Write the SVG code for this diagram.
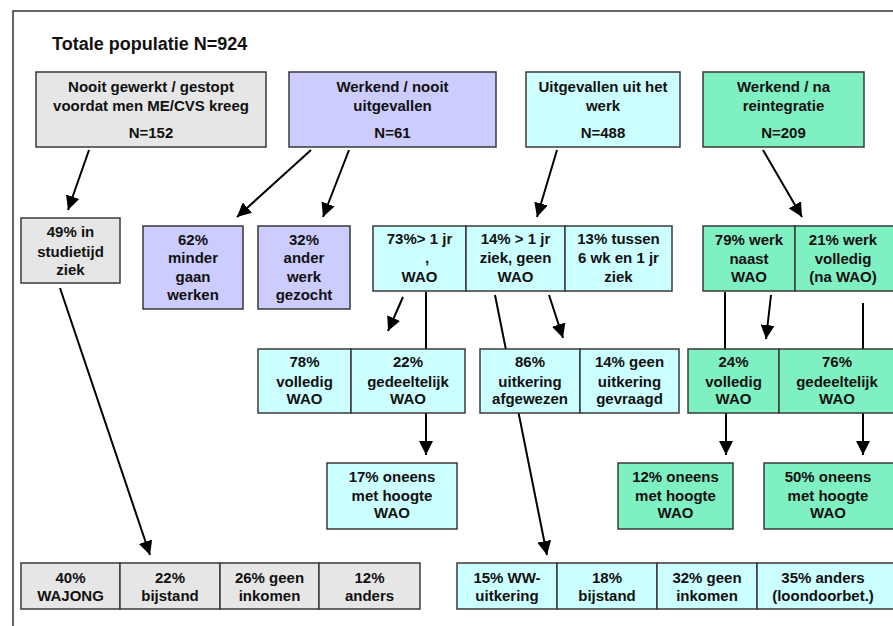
<svg xmlns="http://www.w3.org/2000/svg" width="893" height="626" viewBox="0 0 893 626">
<defs>
<marker id="ah" viewBox="0 0 14 14" refX="14" refY="7" markerWidth="14" markerHeight="14" orient="auto" markerUnits="userSpaceOnUse"><path d="M0,0 L14,7 L0,14 z" fill="#000"/></marker>
<style>
rect{stroke:#3a3a3a;stroke-width:1.5}
.g{fill:#e6e6e6}.p{fill:#ccccff}.c{fill:#ccffff}.m{fill:#7ff0c2}
text{font-family:"Liberation Sans",Arial,sans-serif;font-weight:bold;font-size:15px;fill:#111;text-anchor:middle}
.t{font-size:18px;text-anchor:start}
.ln{stroke:#000;stroke-width:2;fill:none}
.ar{stroke:#000;stroke-width:2;fill:none;marker-end:url(#ah)}
</style>
</defs>
<rect x="0" y="0" width="893" height="626" style="fill:#fff;stroke:none"/>
<path d="M13,626 V11 H893" fill="none" stroke="#333" stroke-width="1.5"/>
<text class="t" x="52" y="50">Totale populatie N=924</text>

<g id="connectors">
<line class="ar" x1="89" y1="150" x2="68" y2="210"/>
<line class="ar" x1="311" y1="150" x2="237" y2="217"/>
<line class="ar" x1="349" y1="150" x2="323" y2="217"/>
<line class="ar" x1="557" y1="150" x2="537" y2="217"/>
<line class="ar" x1="763" y1="150" x2="802" y2="217"/>
<line class="ar" x1="60" y1="288" x2="150" y2="555"/>
<line class="ar" x1="403" y1="297" x2="388" y2="331"/>
<line class="ln" x1="426" y1="292" x2="426" y2="349"/>
<line class="ar" x1="495" y1="295" x2="547" y2="555"/>
<line class="ar" x1="549" y1="295" x2="563" y2="338"/>
<line class="ln" x1="725" y1="292" x2="725" y2="349"/>
<line class="ar" x1="771" y1="295" x2="766" y2="339"/>
<line class="ln" x1="863" y1="303" x2="863" y2="349"/>
<line class="ar" x1="426" y1="413" x2="426" y2="455"/>
<line class="ar" x1="726" y1="413" x2="726" y2="455"/>
<line class="ar" x1="863" y1="413" x2="863" y2="455"/>
</g>

<g id="nooit">
<rect class="g" x="36" y="72" width="230" height="75"/>
<text x="151" y="92">Nooit gewerkt / gestopt</text>
<text x="151" y="111">voordat men ME/CVS kreeg</text>
<text x="151" y="138">N=152</text>
</g>
<g id="werkend-nooit">
<rect class="p" x="289" y="72" width="207" height="75"/>
<text x="392.5" y="92">Werkend / nooit</text>
<text x="392.5" y="111">uitgevallen</text>
<text x="392.5" y="138">N=61</text>
</g>
<g id="uitgevallen">
<rect class="c" x="526" y="72" width="154" height="75"/>
<text x="603" y="92">Uitgevallen uit het</text>
<text x="603" y="111">werk</text>
<text x="603" y="138">N=488</text>
</g>
<g id="werkend-na">
<rect class="m" x="703" y="72" width="161" height="75"/>
<text x="783.5" y="92">Werkend / na</text>
<text x="783.5" y="111">reintegratie</text>
<text x="783.5" y="138">N=209</text>
</g>

<g id="studietijd">
<rect class="g" x="21" y="218" width="99" height="65"/>
<text x="70.5" y="237">49% in</text>
<text x="70.5" y="257">studietijd</text>
<text x="70.5" y="275">ziek</text>
</g>
<g id="minder">
<rect class="p" x="143" y="226" width="100" height="83"/>
<text x="193" y="245">62%</text>
<text x="193" y="263">minder</text>
<text x="193" y="282">gaan</text>
<text x="193" y="300">werken</text>
</g>
<g id="ander">
<rect class="p" x="258" y="226" width="92" height="83"/>
<text x="304" y="245">32%</text>
<text x="304" y="263">ander</text>
<text x="304" y="282">werk</text>
<text x="304" y="300">gezocht</text>
</g>
<g id="wao-row">
<rect class="c" x="373" y="226" width="93" height="65"/>
<rect class="c" x="466" y="226" width="99" height="65"/>
<rect class="c" x="565" y="226" width="107" height="65"/>
<text x="419.5" y="244">73%&gt; 1 jr</text>
<text x="427" y="263">,</text>
<text x="419.5" y="282">WAO</text>
<text x="515.5" y="244">14% &gt; 1 jr</text>
<text x="515.5" y="263">ziek, geen</text>
<text x="515.5" y="282">WAO</text>
<text x="618.5" y="244">13% tussen</text>
<text x="618.5" y="263">6 wk  en 1 jr</text>
<text x="618.5" y="282">ziek</text>
</g>
<g id="werk-row">
<rect class="m" x="703" y="226" width="92" height="65"/>
<rect class="m" x="795" y="226" width="110" height="65"/>
<text x="749" y="245">79% werk</text>
<text x="749" y="264">naast</text>
<text x="749" y="282">WAO</text>
<text x="843" y="245">21% werk</text>
<text x="843" y="264">volledig</text>
<text x="843" y="282">(na WAO)</text>
</g>

<g id="wao-soort">
<rect class="c" x="258" y="349" width="93" height="64"/>
<rect class="c" x="351" y="349" width="114" height="64"/>
<text x="304.5" y="367">78%</text>
<text x="304.5" y="387">volledig</text>
<text x="304.5" y="404">WAO</text>
<text x="408" y="367">22%</text>
<text x="408" y="387">gedeeltelijk</text>
<text x="408" y="404">WAO</text>
</g>
<g id="uitkering">
<rect class="c" x="480" y="349" width="100" height="64"/>
<rect class="c" x="580" y="349" width="99" height="64"/>
<text x="530" y="367">86%</text>
<text x="530" y="387">uitkering</text>
<text x="530" y="404">afgewezen</text>
<text x="629.5" y="367">14% geen</text>
<text x="629.5" y="387">uitkering</text>
<text x="629.5" y="404">gevraagd</text>
</g>
<g id="wao-soort-2">
<rect class="m" x="688" y="349" width="91" height="64"/>
<rect class="m" x="779" y="349" width="126" height="64"/>
<text x="733.5" y="367">24%</text>
<text x="733.5" y="387">volledig</text>
<text x="733.5" y="404">WAO</text>
<text x="837" y="367">76%</text>
<text x="837" y="387">gedeeltelijk</text>
<text x="837" y="404">WAO</text>
</g>

<g id="oneens-17">
<rect class="c" x="327" y="463" width="130" height="66"/>
<text x="392" y="482">17% oneens</text>
<text x="392" y="501">met hoogte</text>
<text x="392" y="518">WAO</text>
</g>
<g id="oneens-12">
<rect class="m" x="618" y="463" width="115" height="66"/>
<text x="675.5" y="482">12% oneens</text>
<text x="675.5" y="501">met hoogte</text>
<text x="675.5" y="518">WAO</text>
</g>
<g id="oneens-50">
<rect class="m" x="764" y="463" width="140" height="66"/>
<text x="828" y="482">50% oneens</text>
<text x="828" y="501">met hoogte</text>
<text x="828" y="518">WAO</text>
</g>

<g id="inkomen-grijs">
<rect class="g" x="21" y="563" width="99" height="46"/>
<rect class="g" x="120" y="563" width="100" height="46"/>
<rect class="g" x="220" y="563" width="99" height="46"/>
<rect class="g" x="319" y="563" width="101" height="46"/>
<text x="70.5" y="583">40%</text>
<text x="70.5" y="601">WAJONG</text>
<text x="170" y="583">22%</text>
<text x="170" y="601">bijstand</text>
<text x="269.5" y="583">26% geen</text>
<text x="269.5" y="601">inkomen</text>
<text x="369.5" y="583">12%</text>
<text x="369.5" y="601">anders</text>
</g>
<g id="inkomen-cyaan">
<rect class="c" x="457" y="563" width="100" height="46"/>
<rect class="c" x="557" y="563" width="100" height="46"/>
<rect class="c" x="657" y="563" width="100" height="46"/>
<rect class="c" x="757" y="563" width="145" height="46"/>
<text x="507" y="583">15% WW-</text>
<text x="507" y="601">uitkering</text>
<text x="607" y="583">18%</text>
<text x="607" y="601">bijstand</text>
<text x="707" y="583">32% geen</text>
<text x="707" y="601">inkomen</text>
<text x="823" y="583">35% anders</text>
<text x="823" y="601">(loondoorbet.)</text>
</g>
</svg>
